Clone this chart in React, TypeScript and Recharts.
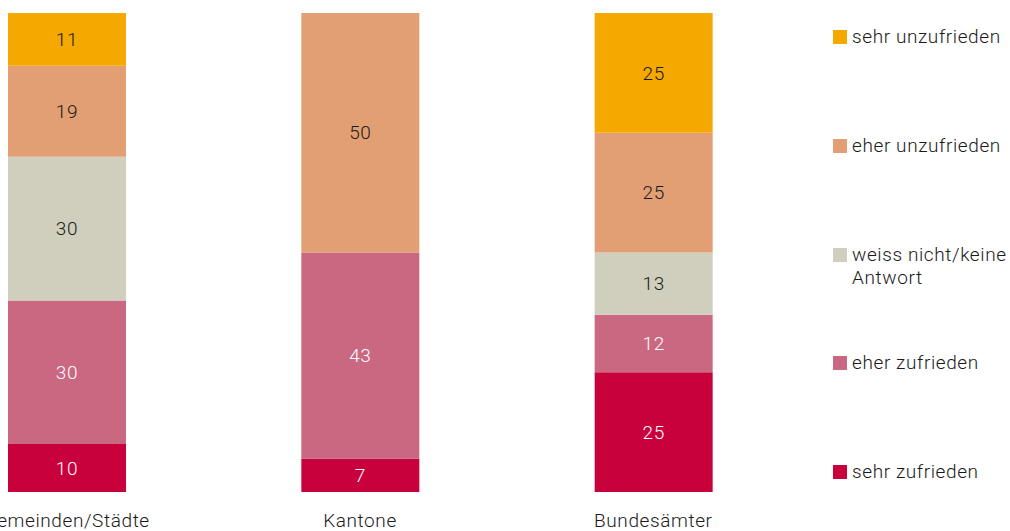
import React from "react";
import { Bar, BarChart, LabelList, XAxis, YAxis } from "recharts";

const categories = ["Gemeinden/Städte", "Kantone", "Bundesämter"];
const sehrZufrieden = [10, 7, 25];
const eherZufrieden = [30, 43, 12];
const weissNicht = [30, 0, 13];
const eherUnzufrieden = [19, 50, 25];
const sehrUnzufrieden = [11, 0, 25];

// bottom to top, as stacked
const series = [
  { key: "sehrZufrieden", name: "sehr zufrieden", values: sehrZufrieden, color: "#C8003C", text: "#ffffff" },
  { key: "eherZufrieden", name: "eher zufrieden", values: eherZufrieden, color: "#C96880", text: "#ffffff" },
  { key: "weissNicht", name: "weiss nicht/keine Antwort", values: weissNicht, color: "#D0CFBD", text: "#1a1a1a" },
  { key: "eherUnzufrieden", name: "eher unzufrieden", values: eherUnzufrieden, color: "#E29F73", text: "#1a1a1a" },
  { key: "sehrUnzufrieden", name: "sehr unzufrieden", values: sehrUnzufrieden, color: "#F5A800", text: "#1a1a1a" },
];

const data = categories.map((name, i) => {
  const row: Record<string, string | number> = { name };
  series.forEach(s => { row[s.key] = s.values[i] });
  return row;
});

const font = "Roboto, 'Liberation Sans', Arial, sans-serif";
const spacing = "0.6px";

export default function App() {
  return (
    <div style={{ position: "absolute", left: 0, top: 0, width: 1010, height: 531, overflow: "hidden", background: "#fff", fontFamily: font }}>
      <div style={{ position: "absolute", left: -80, top: 0 }}>
        <BarChart width={880} height={531} data={data} margin={{ top: 13, right: 0, bottom: 0, left: 0 }}>
          <XAxis
            dataKey="name"
            axisLine={false}
            tickLine={false}
            tickSize={0}
            tickMargin={22}
            height={39}
            interval={0}
            tick={{ fontSize: 19, fill: "#1a1a1a", fontFamily: font, fontWeight: 300, letterSpacing: spacing }}
          />
          <YAxis hide domain={[0, 100]} />
          {series.map(s => (
            <Bar key={s.key} dataKey={s.key} name={s.name} stackId="a" fill={s.color} barSize={118} isAnimationActive={false}>
              <LabelList
                dataKey={s.key}
                position="center"
                formatter={(v: any) => (v ? v : "")}
                style={{ fontSize: 19, fill: s.text, fontFamily: font, fontWeight: 300, letterSpacing: spacing }}
              />
            </Bar>
          ))}
        </BarChart>
      </div>
      <div style={{ position: "absolute", left: 833, top: 25, width: 177 }}>
        {[...series].reverse().map(s => (
          <div key={s.key} style={{ display: "flex", alignItems: "flex-start", height: 108.75 }}>
            <div style={{ width: 14, height: 14, background: s.color, marginTop: 5, flexShrink: 0 }} />
            <div style={{ marginLeft: 5, fontSize: 19, lineHeight: "23px", color: "#1a1a1a", fontWeight: 300, letterSpacing: spacing, width: 160 }}>{s.name}</div>
          </div>
        ))}
      </div>
    </div>
  );
}
